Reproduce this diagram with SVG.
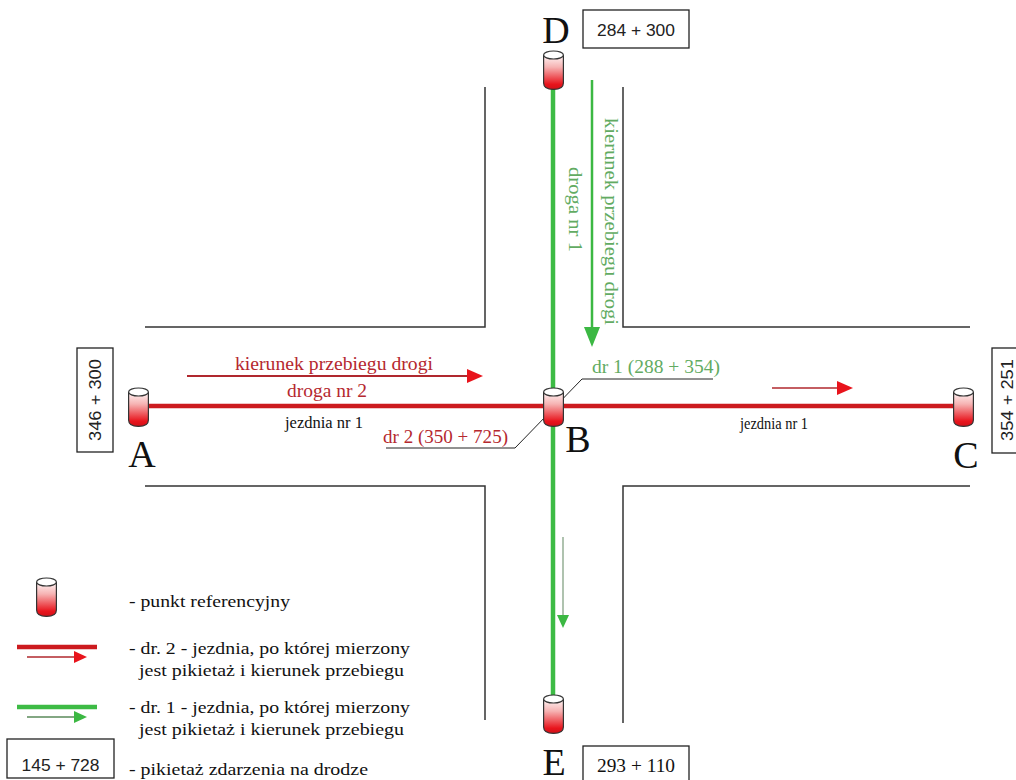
<svg xmlns="http://www.w3.org/2000/svg" width="1016" height="780" viewBox="0 0 1016 780">
<style>
.out{fill:none;stroke:#333;stroke-width:1.5}
.box{fill:#fff;stroke:#222;stroke-width:1.3}
.sans{font-family:"Liberation Sans",Arial,sans-serif;fill:#222}
.tr{font-family:"Liberation Serif","Times New Roman",serif;fill:#b5282f}
.tg{font-family:"Liberation Serif","Times New Roman",serif;fill:#62ab62}
.big{font-family:"Liberation Serif","Times New Roman",serif;font-size:38px;fill:#111;text-anchor:middle}
.rroad{stroke:#cc1b1f;stroke-width:4.5;fill:none}
.groad{stroke:#3dbb45;stroke-width:4.5;fill:none}
.lead{stroke:#222;stroke-width:1;fill:none}
</style>
<defs>
<linearGradient id="cg" x1="0" y1="0" x2="0" y2="1">
<stop offset="0" stop-color="#fff6f6"/>
<stop offset="0.35" stop-color="#f6b3b3"/>
<stop offset="0.85" stop-color="#e8141c"/>
<stop offset="1" stop-color="#d01018"/>
</linearGradient>
<g id="cyl">
<path d="M0.6,5 V33 Q0.6,39.4 10.5,39.4 Q20.4,39.4 20.4,33 V5" fill="url(#cg)" stroke="#333" stroke-width="1.2"/>
<ellipse cx="10.5" cy="5" rx="9.9" ry="4" fill="#fff" stroke="#333" stroke-width="1.2"/>
</g>
<marker id="mR" viewBox="0 0 16 14" refX="8" refY="7" markerWidth="16" markerHeight="14" markerUnits="userSpaceOnUse" orient="auto"><path d="M0,0 L16,7 L0,14 Z" fill="#e8141c"/></marker>
<marker id="mRs" viewBox="0 0 13 12" refX="6" refY="6" markerWidth="13" markerHeight="12" markerUnits="userSpaceOnUse" orient="auto"><path d="M0,0 L13,6 L0,12 Z" fill="#e8141c"/></marker>
<marker id="mG" viewBox="0 0 20 16" refX="10" refY="8" markerWidth="20" markerHeight="16" markerUnits="userSpaceOnUse" orient="auto"><path d="M0,0 L20,8 L0,16 Z" fill="#3cb843"/></marker>
<marker id="mGs" viewBox="0 0 13 12" refX="6" refY="6" markerWidth="13" markerHeight="12" markerUnits="userSpaceOnUse" orient="auto"><path d="M0,0 L13,6 L0,12 Z" fill="#3cb843"/></marker>
</defs>
<rect width="1016" height="780" fill="#fff"/>

<g id="road-outlines">
<polyline class="out" points="145,327 485,327 485,87"/>
<polyline class="out" points="623,87 623,327 970,327"/>
<polyline class="out" points="145,486 485,486 485,720"/>
<polyline class="out" points="623,723 623,486 970,486"/>
</g>

<g id="connectors">
<line class="groad" x1="553" y1="88" x2="553" y2="696"/>
<line class="rroad" x1="148" y1="406" x2="955" y2="406"/>
<line x1="187" y1="376" x2="475" y2="376" stroke="#b0282e" stroke-width="2.2" marker-end="url(#mR)"/>
<line x1="772" y1="388" x2="845" y2="388" stroke="#b0282e" stroke-width="1.6" marker-end="url(#mR)"/>
<line x1="592" y1="80" x2="592" y2="337" stroke="#3cb843" stroke-width="2.5" marker-end="url(#mG)"/>
<line x1="563" y1="537" x2="563" y2="621" stroke="#7a9a7a" stroke-width="1.2" marker-end="url(#mGs)"/>
<polyline class="lead" points="386,448 515,448 582,379 713,379"/>
</g>

<g id="road-labels">
<text class="tr" x="235" y="370" font-size="18" textLength="198" lengthAdjust="spacingAndGlyphs">kierunek przebiegu drogi</text>
<text class="tr" x="287" y="397" font-size="18" textLength="80" lengthAdjust="spacingAndGlyphs">droga nr 2</text>
<text class="tr" style="fill:#111" x="285" y="428" font-size="16" textLength="78" lengthAdjust="spacingAndGlyphs">jezdnia nr 1</text>
<text class="tr" style="fill:#111" x="740" y="429" font-size="16" textLength="68" lengthAdjust="spacingAndGlyphs">jezdnia nr 1</text>
<text class="tr" x="383" y="443" font-size="18" textLength="125" lengthAdjust="spacingAndGlyphs">dr 2 (350 + 725)</text>
<text class="tg" x="592" y="373" font-size="18" textLength="128" lengthAdjust="spacingAndGlyphs">dr 1 (288 + 354)</text>
<text class="tg" transform="translate(605,118) rotate(90)" font-size="18" textLength="207" lengthAdjust="spacingAndGlyphs">kierunek przebiegu drogi</text>
<text class="tg" transform="translate(569,167) rotate(90)" font-size="18" textLength="85" lengthAdjust="spacingAndGlyphs">droga nr 1</text>
</g>

<g id="node-A">
<use href="#cyl" x="128" y="387"/>
<text class="big" x="142" y="467">A</text>
<rect class="box" x="77" y="348" width="36" height="104"/>
<text class="sans" transform="translate(101,400) rotate(-90)" font-size="17" text-anchor="middle" textLength="82" lengthAdjust="spacingAndGlyphs">346 + 300</text>
</g>

<g id="node-B">
<use href="#cyl" x="543" y="387"/>
<text class="big" x="578" y="452">B</text>
</g>

<g id="node-C">
<use href="#cyl" x="953" y="387"/>
<text class="big" x="966" y="468">C</text>
<rect class="box" x="992" y="348" width="40" height="105"/>
<text class="sans" transform="translate(1013,400) rotate(-90)" font-size="17" text-anchor="middle" textLength="82" lengthAdjust="spacingAndGlyphs">354 + 251</text>
</g>

<g id="node-D">
<use href="#cyl" x="543" y="50"/>
<text class="big" x="556" y="43">D</text>
<rect class="box" x="583" y="10" width="106" height="38"/>
<text class="sans" x="636" y="36" font-size="17" text-anchor="middle" textLength="78" lengthAdjust="spacingAndGlyphs">284 + 300</text>
</g>

<g id="node-E">
<use href="#cyl" x="543" y="694"/>
<text class="big" x="554" y="775" font-size="36">E</text>
<rect class="box" x="583" y="746" width="106" height="40"/>
<text class="tr" style="fill:#111" x="636" y="772" font-size="19" text-anchor="middle" textLength="78" lengthAdjust="spacingAndGlyphs">293 + 110</text>
</g>

<g id="legend">
<use href="#cyl" x="36" y="577"/>
<text class="tr" style="fill:#111" x="129" y="607" font-size="17" textLength="161" lengthAdjust="spacingAndGlyphs">- punkt referencyjny</text>
<line class="rroad" x1="17" y1="647" x2="97" y2="647" stroke-width="5"/>
<line x1="27" y1="657" x2="80" y2="657" stroke="#b0282e" stroke-width="1.3" marker-end="url(#mRs)"/>
<text class="tr" style="fill:#111" x="129" y="654" font-size="17" textLength="281" lengthAdjust="spacingAndGlyphs">- dr. 2 - jezdnia, po której mierzony</text>
<text class="tr" style="fill:#111" x="139" y="676" font-size="17" textLength="265" lengthAdjust="spacingAndGlyphs">jest pikietaż i kierunek przebiegu</text>
<line class="groad" x1="17" y1="707" x2="97" y2="707" stroke-width="5"/>
<line x1="27" y1="717" x2="80" y2="717" stroke="#5a8a5a" stroke-width="1.3" marker-end="url(#mGs)"/>
<text class="tr" style="fill:#111" x="129" y="713" font-size="17" textLength="281" lengthAdjust="spacingAndGlyphs">- dr. 1 - jezdnia, po której mierzony</text>
<text class="tr" style="fill:#111" x="139" y="735" font-size="17" textLength="265" lengthAdjust="spacingAndGlyphs">jest pikietaż i kierunek przebiegu</text>
<rect class="box" x="7" y="739" width="107" height="39"/>
<text class="sans" x="60.5" y="771" font-size="17" text-anchor="middle" textLength="78" lengthAdjust="spacingAndGlyphs">145 + 728</text>
<text class="tr" style="fill:#111" x="129" y="775" font-size="17" textLength="239" lengthAdjust="spacingAndGlyphs">- pikietaż zdarzenia na drodze</text>
</g>
</svg>
